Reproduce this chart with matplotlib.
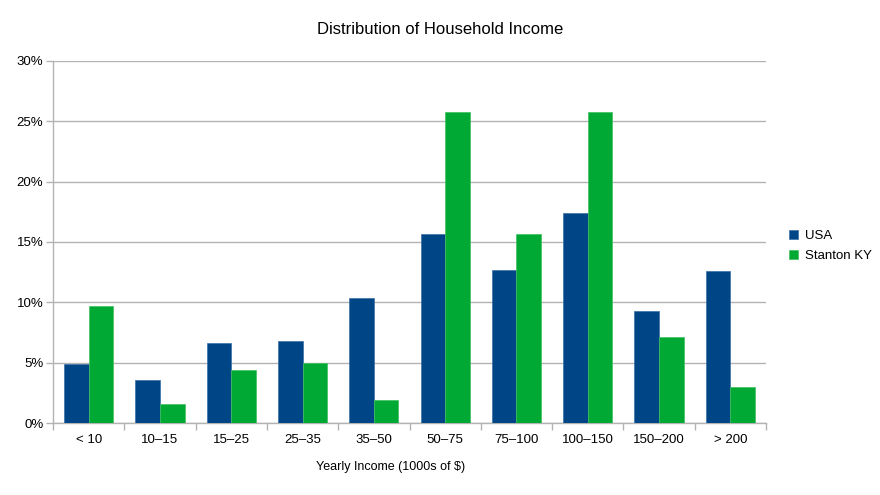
import matplotlib
matplotlib.use("Agg")
import matplotlib.pyplot as plt
import numpy as np
from matplotlib.ticker import PercentFormatter, FixedLocator

plt.rcParams['font.family'] = ['Liberation Sans', 'DejaVu Sans']

categories = ["< 10", "10–15", "15–25", "25–35", "35–50", "50–75", "75–100", "100–150", "150–200", "> 200"]
usa = [4.9, 3.6, 6.6, 6.8, 10.4, 15.7, 12.7, 17.4, 9.3, 12.6]
stanton = [9.7, 1.6, 4.4, 5.0, 1.9, 25.8, 15.7, 25.8, 7.1, 3.0]

fig = plt.figure(figsize=(8.8, 4.95), dpi=100)
ax = fig.add_axes([53/880, 72/495, 713/880, 362/495])

x = np.arange(len(categories))
w = 0.345
ax.bar(x - w/2, usa, w, color="#004586", label="USA", zorder=3, edgecolor="#3a6fa5", linewidth=0.5)
ax.bar(x + w/2, stanton, w, color="#00a933", label="Stanton KY", zorder=3, edgecolor="#40c060", linewidth=0.5)

ax.set_xlim(-0.5, len(categories) - 0.5)
ax.set_ylim(0, 30)
ax.set_yticks(np.arange(0, 31, 5))
ax.yaxis.set_major_formatter(PercentFormatter(decimals=0))
ax.set_xticks(x)
ax.set_xticklabels(categories)
ax.xaxis.set_minor_locator(FixedLocator(np.arange(-0.5, len(categories), 1)))
ax.tick_params(axis='x', which='major', length=0, pad=8, labelsize=9.5)
ax.tick_params(axis='x', which='minor', length=5, color="#b3b3b3", width=1)
ax.tick_params(axis='y', length=5, color="#b3b3b3", width=1, labelsize=9.5, pad=2)
ax.grid(axis='y', color="#b3b3b3", linewidth=1, zorder=0)
for s in ['top', 'right']:
    ax.spines[s].set_visible(False)
for s in ['left', 'bottom']:
    ax.spines[s].set_color("#b3b3b3")
    ax.spines[s].set_linewidth(1)

fig.text(440/880, 1 - 29/495, "Distribution of Household Income", ha='center', va='center', fontsize=12)
fig.text(391/880, 1 - 467/495, "Yearly Income (1000s of $)", ha='center', va='center', fontsize=9)

leg = fig.legend(loc='center left', bbox_to_anchor=(777/880, 1 - 246/495), frameon=False,
                 fontsize=9.5, handlelength=0.7, handleheight=0.7, handletextpad=0.5, labelspacing=0.55)

fig.savefig("out.png", dpi=100)
